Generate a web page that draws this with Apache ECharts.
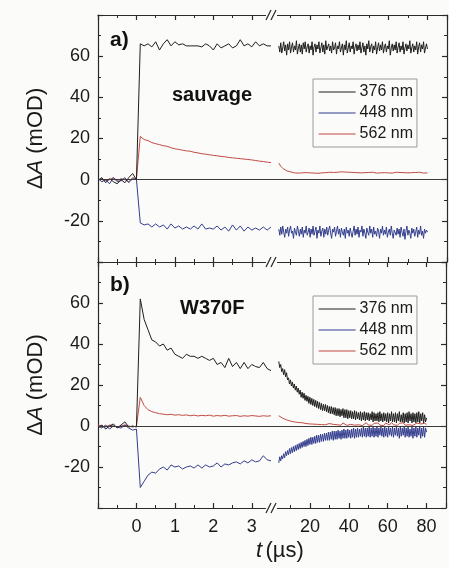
<!DOCTYPE html>
<html>
<head>
<meta charset="utf-8">
<script src="https://cdn.jsdelivr.net/npm/echarts@6/dist/echarts.min.js"></script>
<style>
html,body{margin:0;padding:0;background:#fbfbf9;}
#c{width:449px;height:568px;}
</style>
</head>
<body>
<div id="c"></div>
<script>
// ---- time axes (µs) ----
const tLeft = [-1.0,-0.9,-0.8,-0.7,-0.6,-0.5,-0.4,-0.3,-0.2,-0.1,0.0,
  0.1,0.2,0.3,0.4,0.5,0.6,0.7,0.8,0.9,1.0,1.1,1.2,1.3,1.4,1.5,1.6,1.7,1.8,1.9,2.0,
  2.1,2.2,2.3,2.4,2.5,2.6,2.7,2.8,2.9,3.0,3.1,3.2,3.3,3.4,3.5];
const tRight = [4,5,6,7,8,9,10,11,12,13,14,15,16,17,18,19,20,21,22,23,24,25,26,27,28,29,30,
  31,32,33,34,35,36,37,38,39,40,41,42,43,44,45,46,47,48,49,50,51,52,53,54,55,56,57,58,59,60,
  61,62,63,64,65,66,67,68,69,70,71,72,73,74,75,76,77,78,79,80];
const tRightD = [4,4.5,5,5.5,6,6.5,7,7.5,8,8.5,
  9,9.5,10,10.5,11,11.5,12,12.5,13,13.5,
  14,14.5,15,15.5,16,16.5,17,17.5,18,18.5,
  19,19.5,20,20.5,21,21.5,22,22.5,23,23.5,
  24,24.5,25,25.5,26,26.5,27,27.5,28,28.5,
  29,29.5,30,30.5,31,31.5,32,32.5,33,33.5,
  34,34.5,35,35.5,36,36.5,37,37.5,38,38.5,
  39,39.5,40,40.5,41,41.5,42,42.5,43,43.5,
  44,44.5,45,45.5,46,46.5,47,47.5,48,48.5,
  49,49.5,50,50.5,51,51.5,52,52.5,53,53.5,
  54,54.5,55,55.5,56,56.5,57,57.5,58,58.5,
  59,59.5,60,60.5,61,61.5,62,62.5,63,63.5,
  64,64.5,65,65.5,66,66.5,67,67.5,68,68.5,
  69,69.5,70,70.5,71,71.5,72,72.5,73,73.5,
  74,74.5,75,75.5,76,76.5,77,77.5,78,78.5,
  79,79.5,80];

// ---- tick labels ----
const xTicksLeft = [0,1,2,3];
const xTicksRight = [20,40,60,80];
const yTicks = [-20,0,20,40,60];

// ---- panel a (sauvage) ----
const a376L = [-0.5,1,-1.5,0.5,-1,-2,0,-1.5,1,3,0,
  66,65,66,64.5,67,63,66,68,65,67,65.5,66,65,65,65,65,64.5,66,65,63,66,64,65,66,64,65,68,65,66,64.5,67,65,66,65,65];
const a448L = [0.5,-1,0,-2,1,-1,-0.5,1,-1.5,0.5,0,
  -21,-22,-21.5,-23,-21.5,-23,-22,-24,-21.5,-23.5,-22.5,-24,-23,-24,-22.5,-24,-21.5,-24,-23.5,-24,
  -22.5,-24.5,-23,-25,-22,-24.5,-22.5,-25,-23,-24.5,-23.5,-24.5,-23,-24.5,-23];
const a562L = [0,0.5,-0.5,0,1,-0.5,0.5,0,-1,1,0.5,
  21,19.5,19,18,17.5,17,16.5,16.2,15.5,15,14.7,14.3,14,13.8,13.3,13,12.6,12.4,12.1,11.8,
  11.6,11.3,11.1,10.8,10.6,10.4,10.2,10,9.8,9.6,9.3,9,8.8,8.5,8.3];
const a376R = [65,62,66.5,61.5,64,67,62.5,65.5,60.5,66,
  63,67,61.5,64.5,66.5,62,65,63,67.5,61,
  64,66,62,65.5,61,66.5,63.5,67,62,64.5,
  66,61.5,65,63,67,60.5,64.5,66,62,65.5,
  63.5,67,61.5,64,66.5,62,65.5,61,67.5,63,
  64.5,66,62.5,65,61.5,67,63,64,66.5,61,
  65,63.5,67,62,64,66,60.5,65.5,63,67.5,
  61.5,64,66.5,62,65,63.5,67,61,64.5,66,
  62.5,65.5,63,67,61.5,64,66.5,62,65,60.5,
  66,63.5,67.5,62,64.5,66,61.5,65,63,67,
  61,64,66.5,62.5,65.5,63,67,61.5,64.5,66,
  62,65,63.5,67.5,60.5,64,66,62.5,65.5,63,
  67,61.5,64.5,66.5,62,65,63,67,61,64,
  66,62.5,65.5,63.5,67.5,61.5,64,66,62,65,
  63,67,61,64.5,66.5,62,65.5,63.5,67,61.5,
  64,66,63.5];
const a448R = [-24,-27,-23,-26.5,-22.5,-25.5,-28,-24,-26,-23,
  -27.5,-24.5,-22.5,-26,-25,-28.5,-23.5,-25.5,-27,-22.5,
  -25,-27.5,-24,-26.5,-23,-28,-24.5,-26,-22.5,-27,
  -25.5,-23.5,-28,-24,-26.5,-22.5,-27,-25,-23,-28.5,
  -24.5,-26,-22.5,-27.5,-25,-23.5,-28,-24,-26.5,-23,
  -27,-24.5,-22.5,-26,-28.5,-24,-25.5,-23,-27.5,-25,
  -22.5,-26.5,-24,-28,-23.5,-25.5,-27,-24,-28.5,-23,
  -26,-24.5,-27.5,-23.5,-26,-28,-25,-22.5,-27,-24,
  -26.5,-23,-28,-24.5,-25.5,-22.5,-27.5,-24,-26,-28.5,
  -23.5,-25.5,-27,-22.5,-26,-24,-28,-23,-26.5,-25,
  -27.5,-23.5,-25,-28.5,-24,-26,-22.5,-27,-24.5,-26.5,
  -23,-28,-25.5,-24,-27,-22.5,-26,-28.5,-24.5,-25,
  -27,-23.5,-26.5,-24,-28,-23,-25.5,-27.5,-24,-29,
  -25,-22.5,-27,-24.5,-26,-28.5,-23.5,-26,-24,-27.5,
  -25.5,-23,-28,-24.5,-26.5,-22.5,-27,-25,-28.5,-24,
  -26,-24.5,-25.5];
const a562R = [8,6.5,5.5,4.8,4.3,4,3.8,3.5,3.3,3.5,
  3.2,3.0,3.3,3.1,3.4,3.0,3.3,3.6,3.2,3.4,
  3.1,3.5,3.3,3.7,3.4,3.2,3.6,3.3,3.5,3.9,
  3.6,4.1,3.8,3.5,3.7,3.4,3.6,3.3,3.5,3.2,
  3.4,3.6,3.3,3.1,3.4,3.2,3.5,3.3,3.6,3.4,
  3.2,3.5,3.3,3.6,3.4,3.1,3.3,3.5,3.2,3.4,
  3.6,3.3,3.5,3.2,3.4,3.1,3.3,3.6,3.4,3.2,
  3.5,3.3,3.6,3.4,3.2,3.5,3.3];

// ---- panel b (W370F) ----
const b376L = [-1,0.5,-1.5,0,1,-1,0.5,2,-0.5,0,-0.5,
  62,52,47,42,41,39,40,37,38,35,34,33,35,34,34,33,34,33,32,33,30,31,28.5,33,29,31,28,31,28,30,29,28.5,31,28,27];
const b448L = [0,-1,0.5,-1.5,0,-0.5,-1,0.5,-1,-2,-1.5,
  -30,-27,-24,-22.5,-23,-21,-20,-21.5,-19,-20,-19.5,-21,-20,-19.5,-20.5,-19,-20.5,-19,-20,-19.5,
  -18,-20,-18.5,-19,-18,-17.5,-18.5,-17,-18,-16.5,-17.5,-17,-14.5,-16.5,-17];
const b562L = [0.5,0,-0.5,0.5,0,-0.5,0,0.5,0,-0.5,0,
  14,10,8,7,6.5,6,5.8,5.5,5.7,5.3,5.5,5.2,5.4,5.0,5.3,4.9,5.2,5.0,5.3,4.8,
  5.1,4.9,5.2,4.8,5.0,5.1,4.7,5.0,4.8,5.1,4.9,4.7,5.0,4.8,5.0];
const b376R = [31.5,28.5,30,26.5,28,25,27.5,24,26,22.5,
  23.5,20.5,22.5,19.5,21.5,18.5,20.5,17.5,19.5,16.5,
  18.5,15.5,17.5,14,16.5,13.5,16,12.5,15,12,
  14.5,11,14,10.5,13.5,10,13,9.5,12.5,9,
  12,8.5,11.5,8,11,7.5,10.5,7.5,10.5,7,
  10,6.5,9.5,6,9.5,6,9,5.5,9,5,
  8.5,5,8.5,4.5,8,5,8.5,4,8,4,
  8,3.5,7.5,4,7.5,3.5,7,3.5,7.5,3,
  7,3.5,6.5,3,7,2.5,6.5,3,7,2.5,
  6.5,3,6.5,2.5,6,3,7,2,6.5,2.5,
  6,2.5,6.5,2,7,2.5,6,2,6.5,2.5,
  6,2,6.5,1.5,6,2.5,7,2,6,2,
  6.5,1.5,6,2.5,7,2,5.5,2,6.5,1.5,
  6,2,6.5,1.5,7,2.5,6,1.5,6.5,2,
  6,1.5,6.5,2,7,1.5,6,2.5,6.5,1.5,
  5.5,2,4];
const b448R = [-18,-15,-17,-14.5,-16,-13.5,-15.5,-12.5,-14.5,-12,
  -14,-11,-13.5,-10.5,-13,-10,-12.5,-9.5,-12,-9,
  -11.5,-8.5,-11,-8,-10.5,-7.5,-10,-7,-10,-6.5,
  -9.5,-6,-9,-5.5,-9,-5.5,-8.5,-5,-8.5,-4.5,
  -8,-4.5,-8,-4,-7.5,-4,-7.5,-3.5,-7,-3.5,
  -7,-3,-7,-3,-6.5,-2.5,-7,-2.5,-6.5,-2.5,
  -6.5,-2,-6,-2.5,-6.5,-2,-6,-1.5,-6,-2,
  -6,-1.5,-5.5,-2,-6,-1.5,-5.5,-1,-6,-1.5,
  -5.5,-1,-5.5,-1.5,-5,-1,-5.5,-0.5,-5,-1,
  -5.5,-1,-5,-0.5,-5.5,-1,-5,-0.5,-5.5,-1,
  -5,-0.5,-5.5,-1,-4.5,-0.5,-5,-1,-5.5,-0.5,
  -5,-1,-5.5,-0.5,-4.5,-1,-5,-0.5,-5.5,-1,
  -4.5,-0.5,-5,-1,-6,-0.5,-5,-1,-4.5,-0.5,
  -5.5,-1,-5,-0.5,-5.5,-1.5,-5,-0.5,-6,-1,
  -5,-0.5,-5.5,-1,-4.5,-0.5,-6,-1,-5,-0.5,
  -5.5,-1,-3];
const b562R = [5,4.3,3.8,3.4,3,2.7,2.4,2.2,2,1.8,
  1.7,1.5,1.6,1.3,1.2,1.4,1.0,1.1,0.9,1.2,
  0.8,1.0,0.7,1.1,0.6,0.9,1.2,0.5,0.8,1.3,
  0.6,1.0,0.4,1.5,0.7,0.3,1.2,0.8,1.6,0.4,
  1.1,0.6,1.4,0.2,0.9,1.6,0.5,1.0,0.3,1.3,
  0.7,1.5,0.4,1.0,0.2,1.4,0.8,0.5,1.7,0.6,
  1.0,0.3,1.3,0.8,1.6,0.4,1.1,0.6,1.5,0.3,
  0.9,1.4,0.5,1.0,0.7,1.3,0.8];

const names = ['376 nm','448 nm','562 nm'];
const colors = ['#1e1e1e','#333d8e','#c24a45'];

function pair(t, v){ const n=Math.min(t.length,v.length); const o=[]; for(let i=0;i<n;i++) o.push([t[i],v[i]]); return o; }

const FONT = 'Liberation Sans, Arial, sans-serif';
const AX = '#2a2a2a';
const BG = '#fbfbf9';

const grids = [
  {left:98, top:15, width:173, height:247},
  {left:271, top:15, width:176, height:247},
  {left:98, top:262, width:173, height:246},
  {left:271, top:262, width:176, height:246}
];

function xAxisFor(g, pos){
  const isLeft = (g % 2 === 0);
  const showLab = (g === 2 || g === 3) && pos === 'bottom';
  const allowed = isLeft ? xTicksLeft : xTicksRight;
  return {
    type:'value', gridIndex:g, position:pos,
    min: isLeft ? -1 : 0, max: isLeft ? 3.5 : 90, interval: isLeft ? 1 : 20,
    axisLine:{show:true, onZero:false, lineStyle:{color:AX, width:1.2}},
    axisTick:{show:true, inside:true, length:5, lineStyle:{color:AX, width:1.2}},
    minorTick:{show:true, splitNumber:2, length:3, lineStyle:{color:AX, width:1}},
    splitLine:{show:false}, minorSplitLine:{show:false},
    axisLabel:{show:showLab, margin:10, color:'#1a1a1a', fontSize:18, fontFamily:FONT,
      formatter: v => allowed.indexOf(Math.round(v*1000)/1000) >= 0 ? String(v) : ''}
  };
}
const xAxes = [];
for (let g=0; g<4; g++){ xAxes.push(xAxisFor(g,'bottom')); xAxes.push(xAxisFor(g,'top')); }

function yAxisFor(g){
  const isLeft = (g % 2 === 0);
  const ax = {
    type:'value', gridIndex:g, position: isLeft ? 'left' : 'right',
    min:-40, max:80, interval:20,
    axisLine:{show:true, onZero:false, lineStyle:{color:AX, width:1.2}},
    axisTick:{show:true, inside:true, length:5, lineStyle:{color:AX, width:1.2}},
    minorTick:{show:true, splitNumber:2, length:3, lineStyle:{color:AX, width:1}},
    splitLine:{show:false},
    axisLabel:{show:isLeft, margin:8, color:'#1a1a1a', fontSize:18, fontFamily:FONT,
      formatter: v => yTicks.indexOf(v) >= 0 ? String(v) : ''}
  };
  if (isLeft){
    ax.name = '{n|\u0394}{i|A}{n| (mOD)}';
    ax.nameLocation = 'middle';
    ax.nameGap = 51;
    ax.nameTextStyle = {rich:{
      n:{fontSize:22, fontFamily:FONT, color:'#1a1a1a'},
      i:{fontSize:22, fontFamily:FONT, fontStyle:'italic', color:'#1a1a1a'}
    }};
  }
  return ax;
}
const yAxes = [0,1,2,3].map(yAxisFor);

const zeroLine = {silent:true, symbol:['none','none'], label:{show:false},
  lineStyle:{color:'#3a3a3a', type:'solid', width:1.2}, data:[{yAxis:0}], animation:false};

const panels = [
  {L:[a376L,a448L,a562L], R:[a376R,a448R,a562R]},
  {L:[b376L,b448L,b562L], R:[b376R,b448R,b562R]}
];
const rightTimes = [tRightD, tRightD, tRight];
const series = [];
panels.forEach((p, pi) => {
  for (let s=0; s<3; s++){
    [['L',0],['R',1]].forEach(([side, off]) => {
      const g = pi*2 + off;
      const ser = {
        type:'line', name:names[s], xAxisIndex:g*2, yAxisIndex:g,
        data: pair(side==='L' ? tLeft : rightTimes[s], p[side][s]),
        showSymbol:false, symbol:'none', clip:true, animation:false,
        lineStyle:{color:colors[s], width:1}, itemStyle:{color:colors[s]}, z: 3 - s
      };
      if (s === 0) ser.markLine = zeroLine;
      series.push(ser);
    });
  }
});

function breakMark(y){
  return [
    {type:'rect', shape:{x:266, y:y-5, width:11, height:10}, style:{fill:BG}, z:100},
    {type:'line', shape:{x1:266, y1:y+5, x2:271, y2:y-5}, style:{stroke:AX, lineWidth:1.2}, z:101},
    {type:'line', shape:{x1:271, y1:y+5, x2:276, y2:y-5}, style:{stroke:AX, lineWidth:1.2}, z:101}
  ];
}

const legendCommon = {
  orient:'vertical', data:names, itemWidth:37, itemHeight:14, itemGap:5,
  padding:[5,4,5,5], borderColor:'#9a9a9a', borderWidth:1, backgroundColor:BG,
  selectedMode:false,
  itemStyle:{opacity:0, borderWidth:0},
  lineStyle:{width:1.2},
  textStyle:{fontSize:16, fontFamily:FONT, color:'#1a1a1a', lineHeight:14, padding:[0,0,0,-1]}
};

const option = {
  backgroundColor:BG,
  animation:false,
  grid: grids,
  xAxis: xAxes,
  yAxis: yAxes,
  legend: [
    Object.assign({left:313, top:79}, legendCommon),
    Object.assign({left:313, top:296}, legendCommon)
  ],
  series: series,
  graphic: [].concat(
    breakMark(15), breakMark(262), breakMark(508),
    [
      {type:'text', left:110, top:30, style:{text:'a)', font:'bold 21px '+FONT, fill:'#111'}, z:50},
      {type:'text', left:110, top:275, style:{text:'b)', font:'bold 21px '+FONT, fill:'#111'}, z:50},
      {type:'text', left:172, top:85, style:{text:'sauvage', font:'bold 20px '+FONT, fill:'#111'}, z:50},
      {type:'text', left:180, top:298, style:{text:'W370F', font:'bold 20px '+FONT, fill:'#111'}, z:50},
      {type:'text', left:256, top:540, style:{
        text:'{i|t} {n|(\u00b5s)}',
        rich:{
          i:{font:'italic 22px '+FONT, fill:'#1a1a1a'},
          n:{font:'22px '+FONT, fill:'#1a1a1a'}
        }}, z:50}
    ]
  )
};

const chart = echarts.init(document.getElementById('c'), null, {renderer:'canvas'});
chart.setOption(option);
</script>
</body>
</html>
